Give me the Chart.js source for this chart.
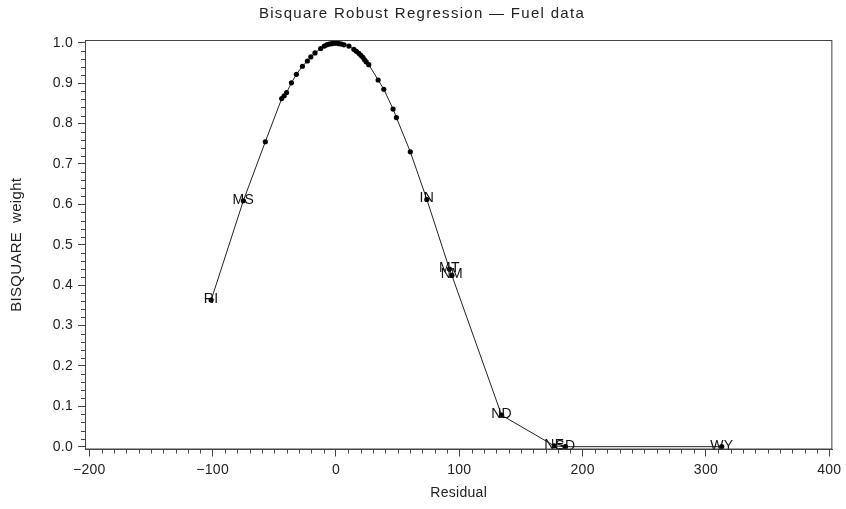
<!DOCTYPE html>
<html>
<head>
<meta charset="utf-8">
<title>Bisquare Robust Regression</title>
<script src="https://cdn.jsdelivr.net/npm/chart.js@4/dist/chart.umd.min.js"></script>
<style>
  html, body { margin: 0; padding: 0; background: #fff; }
  #wrap { width: 846px; height: 509px; }
</style>
</head>
<body>
<div id="wrap"><canvas id="chart" width="846" height="509"></canvas></div>
<script>
// residuals (sorted) and their bisquare weights, state code where labelled
const residuals = [-101.2, -75.1, -57.3, -44.0, -42.0, -40.0, -36.1, -32.1, -27.2, -23.2, -20.4, -17.0, -12.4,
    -9.5, -7.5, -5.5, -3.5, -1.5, 0.5, 2.5, 4.5, 6.5,
    10.5, 14.5, 16.5, 18.6, 20.2, 21.8, 23.2, 24.5, 26.6, 34.2, 38.8, 46.3, 49.0, 60.3,
    73.7, 92.0, 94.0, 134.3, 177.0, 186.0, 312.8];
const weights = [0.363, 0.609, 0.755, 0.862, 0.869, 0.877, 0.901, 0.922, 0.942, 0.955, 0.965, 0.975, 0.986,
    0.992, 0.995, 0.997, 0.998, 0.999, 0.999, 0.998, 0.997, 0.995,
    0.992, 0.984, 0.979, 0.974, 0.969, 0.964, 0.958, 0.953, 0.946, 0.908, 0.885, 0.836, 0.815, 0.730,
    0.612, 0.440, 0.424, 0.078, 0.002, 0.000, 0.000];
const states = ['RI', 'MS', '', '', '', '', '', '', '', '', '', '', '',
    '', '', '', '', '', '', '', '', '',
    '', '', '', '', '', '', '', '', '', '', '', '', '', '',
    'IN', 'MT', 'NM', 'ND', 'NE', 'SD', 'WY'];

const xTicks = [-200, -100, 0, 100, 200, 300, 400];
const yTicks = [0, 0.1, 0.2, 0.3, 0.4, 0.5, 0.6, 0.7, 0.8, 0.9, 1.0];

const TITLE = 'Bisquare Robust Regression \u2014 Fuel data';
const FONT = 'Liberation Sans, Arial, Helvetica, sans-serif';
const AXIS = '#444';

const points = residuals.map((r, i) => ({x: r, y: weights[i]}));

// slightly looser lettering for all the text
const spacing = {
    id: 'spacing',
    beforeDraw(chart) {
        chart.ctx.letterSpacing = '0.3px';
    }
};

// title line above the plot
const heading = {
    id: 'heading',
    afterDraw(chart) {
        const ctx = chart.ctx;
        ctx.save();
        ctx.letterSpacing = '1.3px';
        ctx.font = '15px ' + FONT;
        ctx.fillStyle = '#222';
        ctx.textAlign = 'center';
        ctx.textBaseline = 'middle';
        ctx.fillText(TITLE, 422, 14);
        ctx.restore();
    }
};

// closes the box round the plot area
const frame = {
    id: 'frame',
    afterDraw(chart) {
        const a = chart.chartArea, ctx = chart.ctx;
        ctx.save();
        ctx.strokeStyle = AXIS;
        ctx.lineWidth = 1;
        ctx.strokeRect(a.left + 0.5, a.top + 0.5, a.right - a.left - 1, a.bottom - a.top - 1);
        ctx.restore();
    }
};

// short ticks between the labelled ones
const minorTicks = {
    id: 'minorTicks',
    afterDraw(chart) {
        const ctx = chart.ctx, a = chart.chartArea;
        const xs = chart.scales.x, ys = chart.scales.y;
        ctx.save();
        ctx.strokeStyle = AXIS;
        ctx.lineWidth = 1;
        ctx.beginPath();
        for (let v = -200; v <= 400; v += 10) {
            if (v % 100 === 0) continue;
            const px = Math.round(xs.getPixelForValue(v)) + 0.5;
            ctx.moveTo(px, a.bottom);
            ctx.lineTo(px, a.bottom + 4);
        }
        for (let k = 0; k <= 50; k++) {
            if (k % 5 === 0) continue;
            const py = Math.round(ys.getPixelForValue(k / 50)) + 0.5;
            ctx.moveTo(a.left, py);
            ctx.lineTo(a.left - 4, py);
        }
        ctx.stroke();
        ctx.restore();
    }
};

// state codes written over their points
const stateLabels = {
    id: 'stateLabels',
    afterDatasetsDraw(chart) {
        const ctx = chart.ctx;
        const meta = chart.getDatasetMeta(0);
        ctx.save();
        ctx.font = '14px ' + FONT;
        ctx.fillStyle = '#111';
        ctx.textAlign = 'center';
        ctx.textBaseline = 'middle';
        meta.data.forEach((el, i) => {
            if (states[i]) ctx.fillText(states[i], el.x, el.y - 1);
        });
        ctx.restore();
    }
};

new Chart(document.getElementById('chart'), {
    type: 'scatter',
    data: {
        datasets: [{
            data: points,
            showLine: true,
            borderColor: '#222',
            borderWidth: 1,
            backgroundColor: '#000',
            pointRadius: 2.6,
            pointBorderWidth: 0,
            pointHoverRadius: 2.6
        }]
    },
    options: {
        responsive: false,
        devicePixelRatio: 1,
        animation: false,
        layout: {
            padding: {left: 0, right: 11, top: 40, bottom: 0}
        },
        scales: {
            x: {
                type: 'linear',
                min: -203.5,
                max: 402.5,
                afterBuildTicks: s => { s.ticks = xTicks.map(v => ({value: v})); },
                afterFit: s => { s.height = 59.5; },
                grid: {
                    drawOnChartArea: false,
                    tickLength: 7,
                    tickColor: AXIS
                },
                border: {color: AXIS},
                ticks: {
                    color: '#222',
                    padding: 5,
                    maxRotation: 0,
                    font: {family: FONT, size: 14},
                    callback: v => (v < 0 ? '\u2212' + Math.abs(v) : String(v))
                },
                title: {
                    display: true,
                    text: 'Residual',
                    color: '#222',
                    font: {family: FONT, size: 14},
                    padding: {top: 0, bottom: 7}
                }
            },
            y: {
                type: 'linear',
                min: -0.007,
                max: 1.007,
                afterBuildTicks: s => { s.ticks = yTicks.map(v => ({value: v})); },
                afterFit: s => { s.width = 85; },
                grid: {
                    drawOnChartArea: false,
                    tickLength: 7,
                    tickColor: AXIS
                },
                border: {color: AXIS},
                ticks: {
                    color: '#222',
                    padding: 5,
                    font: {family: FONT, size: 14},
                    callback: v => v.toFixed(1)
                },
                title: {
                    display: true,
                    text: 'BISQUARE  weight',
                    color: '#222',
                    font: {family: FONT, size: 15},
                    padding: {top: 8, bottom: 0}
                }
            }
        },
        plugins: {
            legend: {display: false},
            tooltip: {enabled: false},
            title: {display: false}
        }
    },
    plugins: [spacing, heading, frame, minorTicks, stateLabels]
});
</script>
</body>
</html>
